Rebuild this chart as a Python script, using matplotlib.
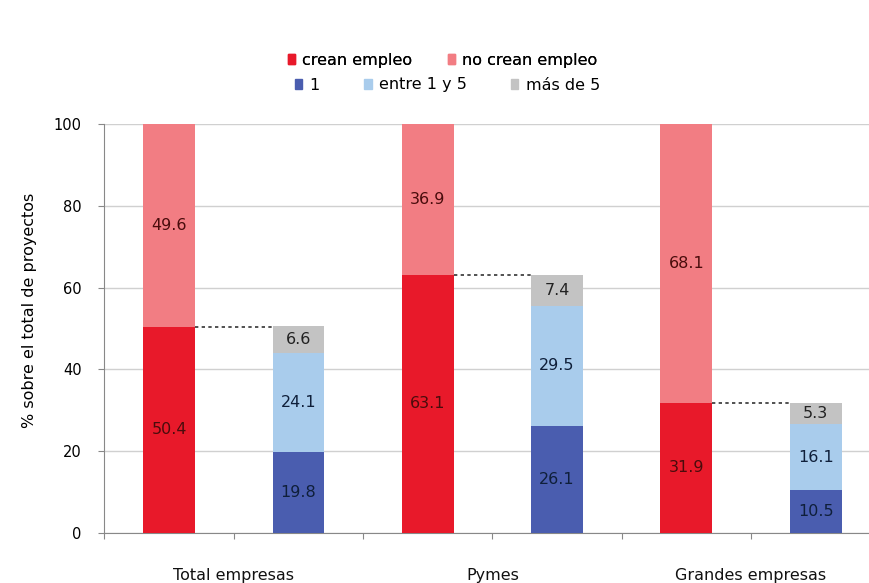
import matplotlib
matplotlib.use("Agg")
import matplotlib.pyplot as plt
from matplotlib.patches import Patch
import numpy as np

groups = ["Total empresas", "Pymes", "Grandes empresas"]
crean = [50.4, 63.1, 31.9]
no_crean = [49.6, 36.9, 68.1]
uno = [19.8, 26.1, 10.5]
entre_1_5 = [24.1, 29.5, 16.1]
mas_5 = [6.6, 7.4, 5.3]

c_crean = "#E8192A"
c_no = "#F27D83"
c_uno = "#4A5DAF"
c_entre = "#A9CCEC"
c_mas = "#C3C3C3"

plt.rcParams["font.family"] = ["DejaVu Sans"]
FS = 11.5

fig = plt.figure(figsize=(8.7, 5.83), dpi=100)
ax = fig.add_axes([104 / 870, 50 / 583, 766 / 870, 409 / 583])

w = 0.4
xr = np.arange(len(groups)) * 2
xb = xr + 1

ax.bar(xr, crean, w, color=c_crean, zorder=3)
ax.bar(xr, no_crean, w, bottom=crean, color=c_no, zorder=3)
ax.bar(xb, uno, w, color=c_uno, zorder=3)
b2 = np.array(uno)
ax.bar(xb, entre_1_5, w, bottom=b2, color=c_entre, zorder=3)
b3 = b2 + np.array(entre_1_5)
ax.bar(xb, mas_5, w, bottom=b3, color=c_mas, zorder=3)

lab_red = "#4a0c0c"
lab_blue = "#0f1f3a"
for i in range(len(groups)):
    ax.text(xr[i], crean[i] / 2, f"{crean[i]:.1f}", ha="center", va="center",
            fontsize=FS, color=lab_red, zorder=4)
    ax.text(xr[i], crean[i] + no_crean[i] / 2, f"{no_crean[i]:.1f}", ha="center",
            va="center", fontsize=FS, color=lab_red, zorder=4)
    ax.text(xb[i], uno[i] / 2, f"{uno[i]:.1f}", ha="center", va="center",
            fontsize=FS, color=lab_blue, zorder=4)
    ax.text(xb[i], b2[i] + entre_1_5[i] / 2, f"{entre_1_5[i]:.1f}", ha="center",
            va="center", fontsize=FS, color=lab_blue, zorder=4)
    ax.text(xb[i], b3[i] + mas_5[i] / 2, f"{mas_5[i]:.1f}", ha="center",
            va="center", fontsize=FS, color="#222222", zorder=4)
    # connector from top of "crean empleo" to top of the breakdown stack
    ax.plot([xr[i] + w / 2, xb[i] - w / 2], [crean[i], crean[i]],
            ls=(0, (2, 2)), color="#333333", lw=1.2, zorder=4)

ax.set_xlim(-0.503, 5.42)
ax.set_ylim(0, 100)
ax.set_yticks([0, 20, 40, 60, 80, 100])
ax.yaxis.grid(True, color="#d0d0d0", lw=1, zorder=0)
ax.set_xticks(np.arange(-0.5, 5.4, 1))
ax.set_xticklabels([])
ax.tick_params(axis="x", length=4, color="#888888", direction="out")
ax.tick_params(axis="y", length=4, color="#888888", labelsize=10.5, pad=12)
for s in ["top", "right"]:
    ax.spines[s].set_visible(False)
ax.spines["left"].set_color("#888888")
ax.spines["bottom"].set_color("#888888")

for i, g in enumerate(groups):
    ax.text((xr[i] + xb[i]) / 2, -10.3, g, ha="center", va="center", fontsize=FS,
            color="#111111")

ax.set_ylabel("% sobre el total de proyectos", fontsize=FS)
ax.yaxis.set_label_coords(-0.087, 0.545)

common = dict(frameon=False, fontsize=FS, handlelength=0.45, handleheight=0.6,
              handletextpad=0.45, borderpad=0, loc="center left")
leg1 = fig.legend(handles=[Patch(color=c_crean, label="crean empleo"),
                           Patch(color=c_no, label="no crean empleo")],
                  bbox_to_anchor=(280 / 870, 1 - 60 / 583), ncol=2,
                  columnspacing=2.2, **common)
fig.legend(handles=[Patch(color=c_uno, label="1"),
                    Patch(color=c_entre, label="entre 1 y 5"),
                    Patch(color=c_mas, label="más de 5")],
           bbox_to_anchor=(287 / 870, 1 - 85 / 583), ncol=3,
           columnspacing=2.8, **common)
fig.add_artist(leg1)

fig.savefig("out.png", dpi=100)
